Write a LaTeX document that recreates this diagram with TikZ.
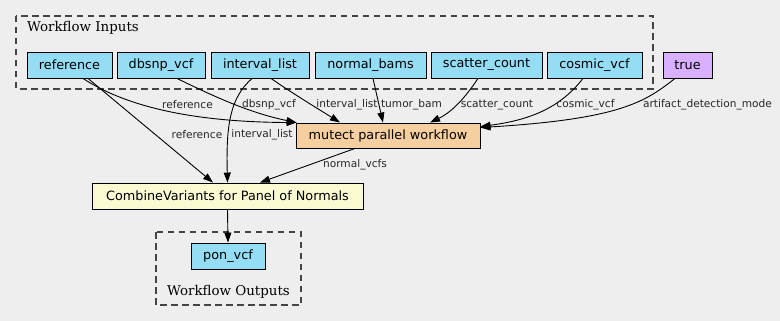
\documentclass[tikz,border=0pt]{standalone}
\usepackage{fontspec}
\setmainfont{DejaVu Sans}
\newfontfamily\clusterfont{DejaVu Serif}
\usetikzlibrary{arrows.meta,shadows}
\definecolor{bgc}{HTML}{EEEEEE}
\definecolor{inblue}{HTML}{94DDF4}
\definecolor{trupurple}{HTML}{D9B0FF}
\definecolor{mutorange}{HTML}{F5CFA0}
\definecolor{combyellow}{HTML}{FAFAD2}
\definecolor{clusterline}{HTML}{444444}
\tikzset{
  box/.style={draw=black, line width=0.9pt, inner sep=0pt, minimum height=26pt,
    font=\fontsize{12.8}{15}\selectfont,
    drop shadow={shadow xshift=1.2pt, shadow yshift=-1.2pt, fill=black!45, opacity=1}},
  inbox/.style={box, fill=inblue},
  elabel/.style={font=\fontsize{10.6}{12}\selectfont, inner sep=0pt, text=black!85},
  edge/.style={draw=black, line width=0.9pt, -{Triangle[length=10pt,width=7pt]}},
  cluster/.style={draw=clusterline, line width=1.1pt, dash pattern=on 6.5pt off 4.5pt},
  clabel/.style={font=\clusterfont\fontsize{13.4}{15}\selectfont, inner sep=0pt}
}
\begin{document}
\begin{tikzpicture}[x=1pt,y=-1pt]
\fill[bgc] (0,0) rectangle (780,321);
\useasboundingbox (0,0) rectangle (780,321);
% clusters
\draw[cluster] (16,16) rectangle (653,89);
\node[clabel, anchor=west] (inlab) at (27,28) {Workflow Inputs};
\draw[cluster] (156,232) rectangle (301,305);
\node[clabel] (outlab) at (228.5,292) {Workflow Outputs};
% nodes
\node[inbox, minimum width=85pt] (ref) at (69.5,65) {reference};
\node[inbox, minimum width=88pt] (dbsnp) at (161,65) {dbsnp\_vcf};
\node[inbox, minimum width=98pt] (ivl) at (260,65) {interval\_list};
\node[inbox, minimum width=111pt] (nbams) at (370.5,65) {normal\_bams};
\node[inbox, minimum width=111pt] (scat) at (486.5,65) {scatter\_count};
\node[inbox, minimum width=95pt] (cosm) at (594.5,65) {cosmic\_vcf};
\node[box, fill=trupurple, minimum width=49pt] (tru) at (687.5,65) {true};
\node[box, fill=mutorange, minimum width=184pt, minimum height=25pt] (mut) at (388,135.5) {mutect parallel workflow};
\node[box, fill=combyellow, minimum width=271pt] (comb) at (227.5,196) {CombineVariants for Panel of Normals};
\node[inbox, minimum width=74pt] (pon) at (228,256) {pon\_vcf};
% edges
\draw[edge] ([xshift=13.5pt]ref.south) .. controls (122,104) and (185,122) .. ([xshift=1pt]mut.north west);
\draw[edge] ([xshift=16pt]dbsnp.south) .. controls (215,97) and (250,113) .. ([xshift=1pt]mut.north west);
\draw[edge] ([xshift=11pt]ivl.south) .. controls (295,95) and (320,110) .. ([xshift=-48pt]mut.north);
\draw[edge] ([xshift=-8pt]ivl.south) .. controls (230,98) and (226,125) .. ([xshift=0pt]comb.north);
\draw[edge] ([xshift=18.5pt]ref.south) -- ([xshift=-14.5pt]comb.north);
\draw[edge] ([xshift=2.5pt]nbams.south) -- ([xshift=-5pt]mut.north);
\draw[edge] ([xshift=-8.5pt]scat.south) .. controls (465,98) and (452,112) .. ([xshift=42pt]mut.north);
\draw[edge] ([xshift=-11.5pt]cosm.south) .. controls (560,108) and (530,120) .. ([yshift=-4pt]mut.north east);
\draw[edge] ([xshift=-12.5pt]tru.south) .. controls (645,102) and (620,119) .. ([yshift=-5pt]mut.north east);
\draw[edge] ([xshift=-33pt]mut.south) -- ([xshift=32.5pt]comb.north);
\draw[edge] (comb.south) -- (pon.north);
% edge labels
\node[elabel] (l1) at (187.5,105) {reference};
\node[elabel] (l2) at (269,105) {dbsnp\_vcf};
\node[elabel] (l3) at (347,105) {interval\_list};
\node[elabel] (l4) at (411.5,105) {tumor\_bam};
\node[elabel] (l5) at (497,105) {scatter\_count};
\node[elabel] (l6) at (585.5,105) {cosmic\_vcf};
\node[elabel] (l7) at (707.5,105) {artifact\_detection\_mode};
\node[elabel] (l8) at (197,135) {reference};
\node[elabel] (l9) at (262,135) {interval\_list};
\node[elabel] (l10) at (355,165) {normal\_vcfs};
\end{tikzpicture}
\end{document}
